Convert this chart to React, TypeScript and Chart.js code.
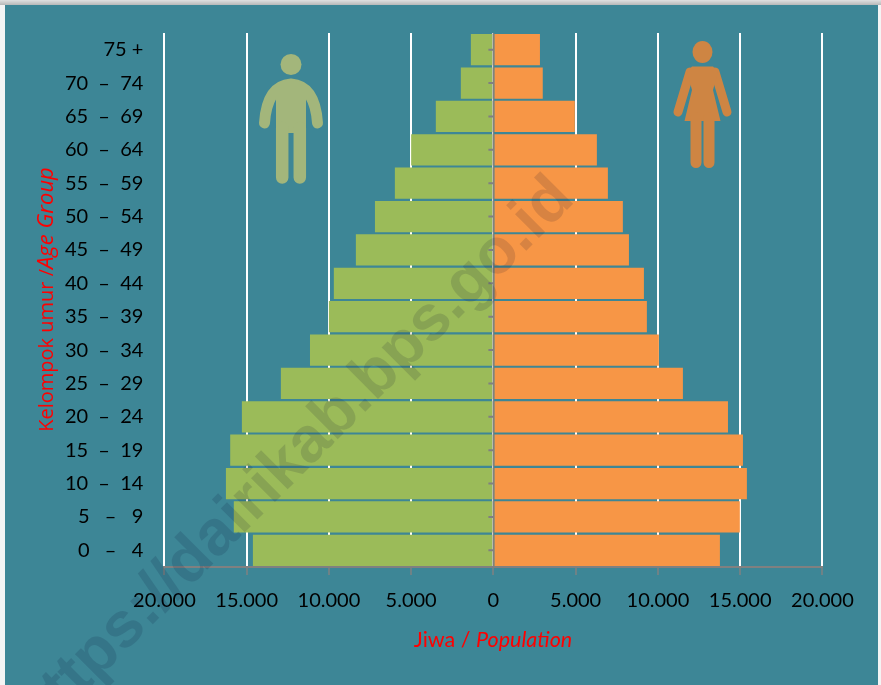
import React, { useEffect, useRef } from "react";
import { Chart, registerables } from "chart.js";

Chart.register(...registerables);

const ageGroups = ["0   –   4", "5   –   9", "10  –  14", "15  –  19", "20  –  24", "25  –  29", "30  –  34", "35  –  39", "40  –  44", "45  –  49", "50  –  54", "55  –  59", "60  –  64", "65  –  69", "70  –  74", "75 +"];
const male = [14620, 15780, 16260, 16000, 15290, 12920, 11150, 10000, 9700, 8360, 7200, 5990, 5000, 3500, 1980, 1370];
const female = [13770, 14980, 15410, 15170, 14260, 11520, 10060, 9330, 9150, 8240, 7870, 6960, 6290, 4950, 3000, 2830];
const xTicks = [-20000, -15000, -10000, -5000, 0, 5000, 10000, 15000, 20000];
const FONT = "Lato";

const fmt = (v: number) => String(Math.abs(v)).replace(/\B(?=(\d{3})+$)/g, ".");

const backdrop = {
  id: "backdrop",
  beforeDraw(chart: any) {
    const c = chart.ctx;
    c.save();
    c.fillStyle = "#f4f4f4";
    c.fillRect(0, 0, 881, 685);
    const g = c.createLinearGradient(0, 0, 0, 5);
    g.addColorStop(0, "#e0e0e0");
    g.addColorStop(1, "#b8b8b8");
    c.fillStyle = g;
    c.fillRect(0, 0, 881, 5);
    c.fillStyle = "#3d8696";
    c.fillRect(5, 5, 873, 680);
    c.restore();
  },
};

const overlay = {
  id: "overlay",
  afterDatasetsDraw(chart: any) {
    const c = chart.ctx;
    const x0 = chart.scales.x.getPixelForValue(0);
    const y = chart.scales.y;
    c.save();
    c.strokeStyle = "#808080";
    c.lineWidth = 1.5;
    c.beginPath();
    c.moveTo(x0, y.top);
    c.lineTo(x0, y.bottom);
    c.stroke();
    c.lineWidth = 2;
    c.beginPath();
    ageGroups.forEach((_, i) => {
      const t = y.getPixelForValue(i);
      c.moveTo(x0 - 5, t);
      c.lineTo(x0, t);
    });
    c.stroke();
    c.restore();
  },
  afterDraw(chart: any) {
    const c = chart.ctx;
    c.save();
    // axis titles
    c.fillStyle = "#ff0000";
    c.textBaseline = "alphabetic";
    c.textAlign = "left";
    const parts = (arr: [string, string][], x: number, y: number) => {
      let cx = x;
      for (const [font, s] of arr) {
        c.font = font;
        c.fillText(s, cx, y);
        cx += c.measureText(s).width;
      }
    };
    const reg = `21.5px ${FONT}`;
    const ita = `italic 21.5px ${FONT}`;
    c.font = reg;
    const w1 = c.measureText("Jiwa / ").width;
    c.font = ita;
    const w2 = c.measureText("Population").width;
    parts([[reg, "Jiwa / "], [ita, "Population"]], 493 - (w1 + w2) / 2, 647);
    c.save();
    c.translate(53, 299.5);
    c.rotate(-Math.PI / 2);
    const reg2 = `20px 'Open Sans'`;
    const ita2 = `italic 22px 'Open Sans'`;
    c.font = reg2;
    const w3 = c.measureText("Kelompok umur /").width;
    c.font = ita2;
    const w4 = c.measureText("Age Group").width;
    parts([[reg2, "Kelompok umur /"], [ita2, "Age Group"]], -(w3 + w4) / 2, 0);
    c.restore();

    // man icon
    c.fillStyle = "#a3b67b";
    c.strokeStyle = "#a3b67b";
    c.beginPath();
    c.arc(291, 64.5, 10.5, 0, Math.PI * 2);
    c.fill();
    c.lineCap = "round";
    c.lineWidth = 11;
    c.beginPath();
    c.moveTo(264.5, 123);
    c.quadraticCurveTo(267, 86, 291, 84);
    c.quadraticCurveTo(315, 86, 317.5, 123);
    c.stroke();
    c.beginPath();
    c.moveTo(276, 85);
    c.quadraticCurveTo(291, 74, 306, 85);
    c.lineTo(306, 133);
    c.lineTo(276, 133);
    c.closePath();
    c.fill();
    c.lineWidth = 12.5;
    c.beginPath();
    c.moveTo(282.2, 128);
    c.lineTo(282.2, 177.5);
    c.moveTo(299.8, 128);
    c.lineTo(299.8, 177.5);
    c.stroke();

    // woman icon
    c.fillStyle = "#ce8543";
    c.strokeStyle = "#ce8543";
    c.beginPath();
    c.ellipse(702.5, 52, 10, 11, 0, 0, Math.PI * 2);
    c.fill();
    c.lineWidth = 9;
    c.beginPath();
    c.moveTo(690, 72);
    c.lineTo(678, 112);
    c.moveTo(715, 72);
    c.lineTo(727, 112);
    c.stroke();
    c.beginPath();
    c.moveTo(692, 66.5);
    c.lineTo(713, 66.5);
    c.lineTo(718, 72);
    c.lineTo(713, 90);
    c.lineTo(720.5, 121);
    c.lineTo(684.5, 121);
    c.lineTo(692, 90);
    c.lineTo(687, 72);
    c.closePath();
    c.fill();
    c.lineWidth = 11;
    c.beginPath();
    c.moveTo(696, 118);
    c.lineTo(696, 162.5);
    c.moveTo(709, 118);
    c.lineTo(709, 162.5);
    c.stroke();

    // watermark
    c.translate(38, 739);
    c.rotate((-45 * Math.PI) / 180);
    c.font = "bold 64px 'Liberation Sans'";
    c.fillStyle = "rgba(0, 10, 50, 0.13)";
    c.textAlign = "left";
    c.fillText("https://dairikab.bps.go.id", 0, 0);
    c.restore();
  },
};

export default function App() {
  const ref = useRef<HTMLCanvasElement>(null);
  useEffect(() => {
    document.body.style.margin = "0";
    const chart = new Chart(ref.current!, {
      type: "bar",
      data: {
        labels: ageGroups,
        datasets: [
          { label: "Laki-laki", data: male.map((v) => -v), backgroundColor: "#9bbb59", barPercentage: 0.94, categoryPercentage: 1 },
          { label: "Perempuan", data: female, backgroundColor: "#f79646", barPercentage: 0.94, categoryPercentage: 1 },
        ],
      },
      plugins: [backdrop, overlay],
      options: {
        indexAxis: "y",
        responsive: false,
        animation: false,
        layout: { padding: { top: 33, right: 58.6, left: 0, bottom: 0 } },
        plugins: { legend: { display: false }, tooltip: { enabled: false } },
        scales: {
          x: {
            stacked: true,
            min: -20000,
            max: 20000,
            afterBuildTicks: (s: any) => { s.ticks = xTicks.map((value) => ({ value })); },
            afterFit: (s: any) => { s.height = 118; },
            grid: { color: "#ffffff", lineWidth: 2, tickColor: "#808080", tickLength: 8, tickWidth: 1.5 },
            border: { color: "#808080", width: 2 },
            ticks: { callback: (v: any) => fmt(Number(v)), color: "#000000", font: { family: FONT, size: 20 }, padding: 14, maxRotation: 0, autoSkip: false },
          },
          y: {
            stacked: true,
            reverse: true,
            afterFit: (s: any) => { s.width = 164.4; },
            grid: { display: false, drawTicks: false },
            border: { display: false },
            ticks: { color: "#000000", font: { family: FONT, size: 20 }, padding: 21, autoSkip: false },
          },
        },
      },
    });
    return () => chart.destroy();
  }, []);
  return <canvas ref={ref} width={881} height={685} style={{ display: "block" }} />;
}
